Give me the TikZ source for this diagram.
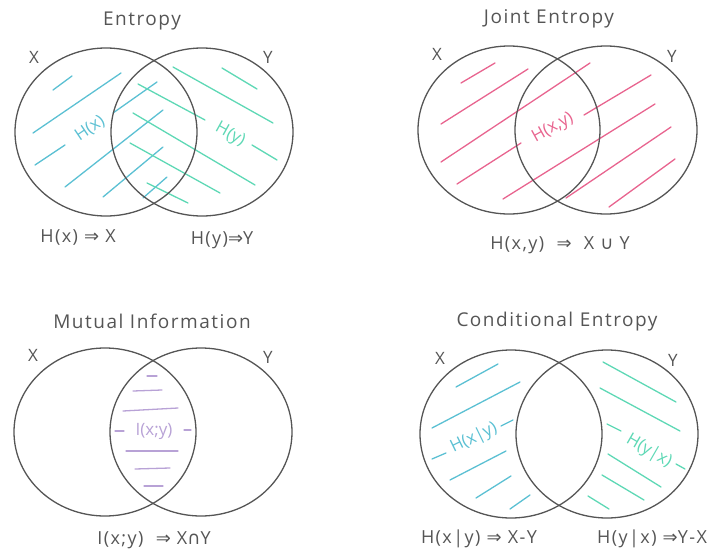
\documentclass[tikz,border=0pt]{standalone}
\usepackage{fontspec}
\setmainfont{Open Sans}[LetterSpace=8.0]
\newfontfamily\inlfont{Open Sans}
\newfontfamily\symfont{DejaVu Sans}
\newcommand{\impl}{{\symfont ⇒}}

\definecolor{inkgray}{HTML}{555555}
\definecolor{hblue}{HTML}{5BC0D3}
\definecolor{hgreen}{HTML}{5ED8B5}
\definecolor{hpink}{HTML}{E8648F}
\definecolor{hpurple}{HTML}{B8A2D6}

\tikzset{
  venn/.style={draw=inkgray,line width=1.3pt},
  hatch/.style={line width=1.3pt},
  title/.style={anchor=base,text=inkgray,font=\fontsize{19}{21}\selectfont},
  setname/.style={anchor=base,text=inkgray,font=\fontsize{17}{19}\selectfont},
  formula/.style={anchor=base,text=inkgray,font=\fontsize{18}{20}\selectfont},
  inlbl/.style={font=\inlfont\fontsize{17}{19}\selectfont}
}

\begin{document}
\begin{tikzpicture}[x=1pt,y=-1pt,line cap=round,line join=round,every node/.style={inner sep=1pt}]
  \useasboundingbox (0,0) rectangle (716,552);
  \def\rx{91}
  \def\ry{84}

  % Entropy
  \node[title] (t1) at (142,25) {Entropy};
  \node[setname] (x1) at (34,63) {X};
  \node[setname] (y1) at (268,63) {Y};
  \foreach \a/\b/\c/\d in {53/90/72/76, 33/133/121/73, 35/165/65/145, 113/113/157/82,
                           65/187/163/110, 103/197/163/147, 143/198/167/177}
    \draw[hatch,hblue] (\a,\b) -- (\c,\d);
  \foreach \a/\b/\c/\d in {222/68/257/89, 173/67/273/123, 138/84/205/120, 252/145/277/160,
                           133/113/255/185, 130/143/220/193, 147/183/188/203}
    \draw[hatch,hgreen] (\a,\b) -- (\c,\d);
  \draw[venn] (106,132) ellipse [x radius=\rx, y radius=\ry];
  \draw[venn] (202,132) ellipse [x radius=\rx, y radius=\ry];
  \node[inlbl,text=hblue,rotate=34] (hx) at (90,129) {H(x)};
  \node[inlbl,text=hgreen,rotate=-29] (hy) at (230,135) {H(y)};
  \node[formula] (f1a) at (78,242) {H(x) \impl{} X};
  \node[formula] (f1b) at (222,244) {H(y)\impl{}Y};

  % Joint Entropy
  \node[title] (t2) at (549,23) {Joint Entropy};
  \node[setname] (x2) at (437,60) {X};
  \node[setname] (y2) at (672,62) {Y};
  \foreach \a/\b/\c/\d in {461/83/495/63, 441/124/528/69, 441/162/590/63, 457/184/521/143,
                           584/115/651/75, 503/199/655/104, 566/198/671/127, 609/207/675/159}
    \draw[hatch,hpink] (\a,\b) -- (\c,\d);
  \draw[venn] (509,130) ellipse [x radius=\rx, y radius=\ry];
  \draw[venn] (606,130) ellipse [x radius=\rx, y radius=\ry];
  \node[inlbl,text=hpink,rotate=29] (hxy) at (553,128) {H(x,y)};
  \node[formula] (f2) at (560,249) {H(x,y) \ \impl\ \ X {\symfont ∪} Y};

  % Mutual Information
  \node[title] (t3) at (152,328) {Mutual Information};
  \node[setname] (x3) at (33,361) {X};
  \node[setname] (y3) at (268,363) {Y};
  \foreach \a/\b/\c/\d in {147/376/157/376, 133/391/162/390, 123/411/178/408,
                           115/431/124/431, 184/430/191/430,
                           126/451/178/451, 135/469/170/468, 144/486/163/486}
    \draw[hatch,hpurple] (\a,\b) -- (\c,\d);
  \draw[venn] (105,432) ellipse [x radius=\rx, y radius=\ry];
  \draw[venn] (201,432) ellipse [x radius=\rx, y radius=\ry];
  \node[inlbl,text=hpurple] (ixy) at (154,431) {I(x;y)};
  \node[formula] (f3) at (154,544) {I(x;y) \ \impl\ X{\symfont ∩}Y};

  % Conditional Entropy
  \node[title] (t4) at (557,326) {Conditional Entropy};
  \node[setname] (x4) at (440,364) {X};
  \node[setname] (y4) at (673,366) {Y};
  \foreach \a/\b/\c/\d in {456/387/498/364, 432/428/520/382, 432/459/446/453, 501/426/513/420,
                           450/480/506/451, 476/498/511/476, 510/509/530/495}
    \draw[hatch,hblue] (\a,\b) -- (\c,\d);
  \foreach \a/\b/\c/\d in {603/362/676/402, 600/388/680/431, 607/424/621/431, 676/464/685/469,
                           608/454/661/487, 602/475/644/500, 588/496/609/509}
    \draw[hatch,hgreen] (\a,\b) -- (\c,\d);
  \draw[venn] (511,434) ellipse [x radius=\rx, y radius=\ry];
  \draw[venn] (607,434) ellipse [x radius=\rx, y radius=\ry];
  \node[inlbl,text=hblue,rotate=26] (hxgy) at (474,438) {H(x|y)};
  \node[inlbl,text=hgreen,rotate=-30] (hygx) at (649,451) {H(y|x)};
  \node[formula] (f4a) at (479,543) {H(x|y) \impl{} X-Y};
  \node[formula] (f4b) at (652,543) {H(y|x) \impl{}Y-X};
\end{tikzpicture}
\end{document}
